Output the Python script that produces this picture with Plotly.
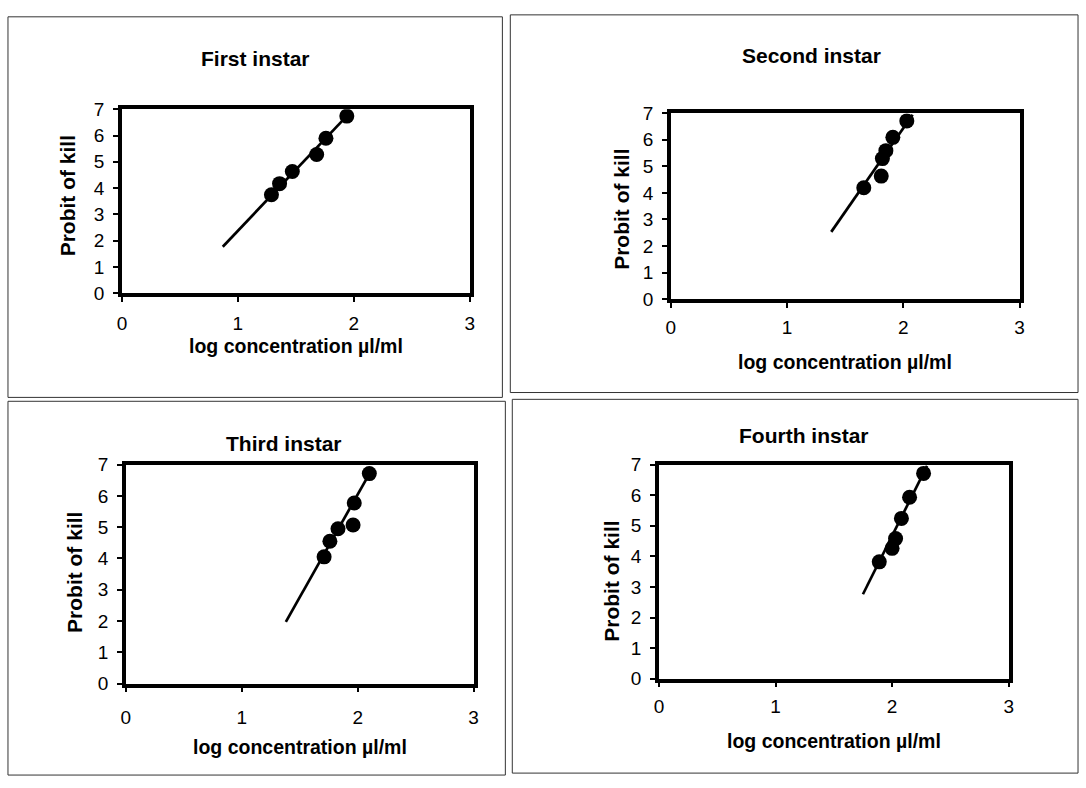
import plotly.graph_objects as go

# ---------------- data ----------------
titles = ["First instar", "Second instar", "Third instar", "Fourth instar"]

first_x = [1.29, 1.36, 1.47, 1.68, 1.76, 1.94]
first_y = [3.75, 4.17, 4.63, 5.28, 5.90, 6.74]
first_line_x = [0.87, 1.97]
first_line_y = [1.77, 6.88]

second_x = [1.66, 1.81, 1.82, 1.85, 1.91, 2.03]
second_y = [4.19, 4.63, 5.29, 5.59, 6.09, 6.71]
second_line_x = [1.38, 2.08]
second_line_y = [2.53, 6.94]

third_x = [1.71, 1.76, 1.83, 1.96, 1.97, 2.10]
third_y = [4.05, 4.55, 4.95, 5.07, 5.77, 6.71]
third_line_x = [1.38, 2.13]
third_line_y = [1.97, 6.90]

fourth_x = [1.89, 2.00, 2.03, 2.08, 2.15, 2.27]
fourth_y = [3.82, 4.26, 4.58, 5.24, 5.93, 6.71]
fourth_line_x = [1.75, 2.30]
fourth_line_y = [2.76, 6.96]

x_ticks = [0, 1, 2, 3]
y_ticks = [0, 1, 2, 3, 4, 5, 6, 7]
x_title = "log concentration µl/ml"
y_title = "Probit of kill"

series = [
    (first_x, first_y, first_line_x, first_line_y),
    (second_x, second_y, second_line_x, second_line_y),
    (third_x, third_y, third_line_x, third_line_y),
    (fourth_x, fourth_y, fourth_line_x, fourth_line_y),
]

# ---------------- layout geometry (pixels) ----------------
W, H = 1086, 788
# plot areas: (left, right, top, bottom)
plots = [(118, 469, 102, 291), (672, 1024, 106, 297),
         (122, 473, 467, 692), (660, 1013, 467, 687)]
# outer panel boxes: (left, top, right, bottom)
boxes = [(3, 7, 502, 398), (510, 5, 1083, 393),
         (3, 402, 505, 786), (512, 400, 1083, 784)]
title_pos = [(253, 50), (814, 47), (282, 445), (806, 437)]
xtitle_y = [345, 362, 757, 751]
ytitle_pos = [(63, 191), (622, 205), (70, 578), (612, 587)]
xlabel_standoff = [5, 3, 9, 3]

FONT = "Liberation Sans, Arial, sans-serif"


def px(x):
    return x / W


def py(y):
    return 1 - y / H


fig = go.Figure()
layout = dict(width=W, height=H, autosize=False,
              margin=dict(l=0, r=0, t=0, b=0),
              paper_bgcolor="white", plot_bgcolor="white",
              showlegend=False, font=dict(family=FONT, color="black"))
annotations = []
shapes = []

for i, (sx, sy, lx, ly) in enumerate(series):
    n = "" if i == 0 else str(i + 1)
    xa, ya = "x" + n, "y" + n
    fig.add_trace(go.Scatter(x=lx, y=ly, mode="lines",
                             line=dict(color="black", width=2.7),
                             xaxis=xa, yaxis=ya, hoverinfo="skip"))
    fig.add_trace(go.Scatter(x=sx, y=sy, mode="markers",
                             marker=dict(color="black", size=15, symbol="circle"),
                             xaxis=xa, yaxis=ya))
    l, r, t, b = plots[i]
    axis_common = dict(showline=True, linewidth=3.5, linecolor="black", mirror=True,
                       showgrid=False, zeroline=False, ticks="outside",
                       ticklen=5, tickwidth=1.5, tickcolor="black",
                       tickfont=dict(family=FONT, size=19, color="black"))
    layout["xaxis" + n] = dict(domain=[px(l), px(r)], range=[0, 3],
                               tickvals=x_ticks, anchor=ya,
                               ticklabelstandoff=xlabel_standoff[i], **axis_common)
    layout["yaxis" + n] = dict(domain=[py(b), py(t)], range=[0, 7],
                               tickvals=y_ticks, anchor=xa,
                               ticklabelstandoff=5, **axis_common)
    # chart title
    tx, ty = title_pos[i]
    annotations.append(dict(text="<b>%s</b>" % titles[i], x=px(tx), y=py(ty),
                            xref="paper", yref="paper", showarrow=False,
                            xanchor="center", yanchor="middle",
                            font=dict(family=FONT, size=21, color="black")))
    # x axis title
    annotations.append(dict(text="<b>%s</b>" % x_title, x=px((l + r) / 2),
                            y=py(xtitle_y[i]), xref="paper", yref="paper",
                            showarrow=False, xanchor="center", yanchor="middle",
                            font=dict(family=FONT, size=19.5, color="black")))
    # y axis title
    yx, yy = ytitle_pos[i]
    annotations.append(dict(text="<b>%s</b>" % y_title, x=px(yx), y=py(yy),
                            xref="paper", yref="paper",
                            showarrow=False, textangle=-90,
                            xanchor="center", yanchor="middle",
                            font=dict(family=FONT, size=21, color="black")))
    bl, bt, br, bb = boxes[i]
    shapes.append(dict(type="rect", xref="paper", yref="paper",
                       x0=px(bl), x1=px(br), y0=py(bb), y1=py(bt),
                       line=dict(color="#333333", width=1)))

layout["annotations"] = annotations
layout["shapes"] = shapes
fig.update_layout(**layout)
fig.write_html(
    "out.html",
    config={"displayModeBar": False},
    post_script="document.body.style.margin='0';document.body.style.overflow='hidden';",
)
